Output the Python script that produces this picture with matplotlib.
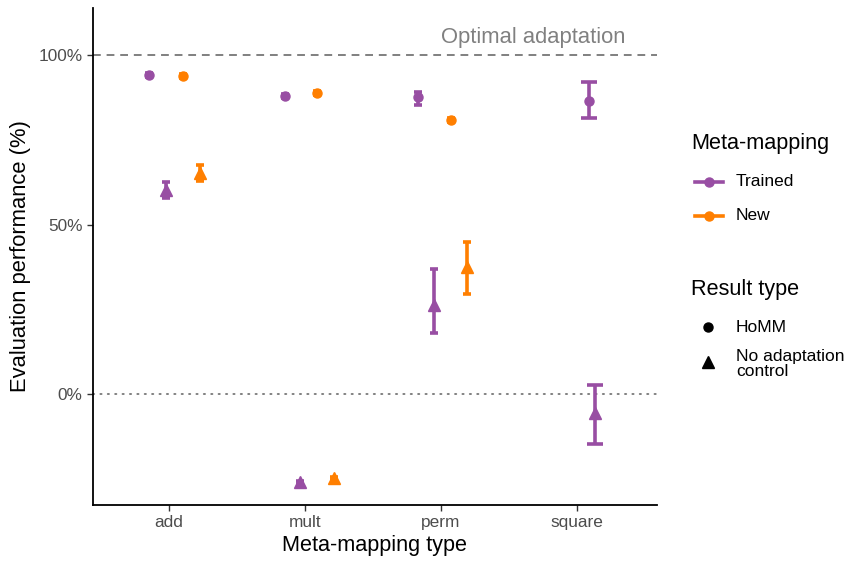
import matplotlib.pyplot as plt
from matplotlib.lines import Line2D

plt.rcParams['font.family'] = ['Liberation Sans', 'DejaVu Sans']

mapping_types = ['add', 'mult', 'perm', 'square']
purple = '#984EA3'
orange = '#FF7F00'

# HoMM results (mean, lower, upper) in percent
homm_trained_x = ['add', 'mult', 'perm', 'square']
homm_trained = [94.1, 87.9, 87.6, 86.4]
homm_trained_lo = [93.5, 87.3, 85.2, 81.4]
homm_trained_hi = [94.7, 88.5, 89.2, 92.0]
homm_trained_jit = [-0.15, -0.15, -0.17, 0.09]

homm_new_x = ['add', 'mult', 'perm']
homm_new = [93.8, 88.8, 80.8]
homm_new_lo = [93.2, 88.2, 80.2]
homm_new_hi = [94.4, 89.4, 81.4]
homm_new_jit = [0.10, 0.09, 0.07]

# no adaptation control
ctrl_trained_x = ['add', 'mult', 'perm', 'square']
ctrl_trained = [60.2, -26.0, 26.3, -5.6]
ctrl_trained_lo = [57.8, -26.4, 18.0, -14.7]
ctrl_trained_hi = [62.5, -25.6, 36.9, 2.7]
ctrl_trained_jit = [-0.02, -0.04, -0.05, 0.13]

ctrl_new_x = ['add', 'mult', 'perm']
ctrl_new = [65.2, -24.8, 37.5]
ctrl_new_lo = [62.8, -25.2, 29.5]
ctrl_new_hi = [67.5, -24.4, 44.8]
ctrl_new_jit = [0.23, 0.21, 0.19]

fig = plt.figure(figsize=(8.45, 5.61), dpi=100)
ax = fig.add_axes([0.110, 0.0998, 0.6675, 0.886])

ax.axhline(100, color='#808080', lw=1.4, ls=(0, (4, 3)), zorder=1)
ax.axhline(0, color='#808080', lw=1.4, ls=(0, (0.6, 3.2)), dash_capstyle='round', zorder=1)
ax.text(3.68, 105.3, 'Optimal adaptation', color='#808080', fontsize=15.8,
        ha='center', va='center')


def draw(cats, vals, lo, hi, jit, color, marker, ms):
    xs = [mapping_types.index(c) + 1 + j for c, j in zip(cats, jit)]
    err = [[v - l for v, l in zip(vals, lo)], [h - v for v, h in zip(vals, hi)]]
    for x, c, v, e0, e1 in zip(xs, cats, vals, err[0], err[1]):
        # square has only one group, so its caps are twice as wide
        cap = 6 if c == 'square' else 3
        ax.errorbar([x], [v], yerr=[[e0], [e1]], fmt='none', ecolor=color,
                    elinewidth=2.6, capsize=cap, capthick=2.6, zorder=2)
    ax.plot(xs, vals, ls='none', marker=marker, ms=ms, color=color, zorder=3)


draw(homm_trained_x, homm_trained, homm_trained_lo, homm_trained_hi, homm_trained_jit, purple, 'o', 6.5)
draw(homm_new_x, homm_new, homm_new_lo, homm_new_hi, homm_new_jit, orange, 'o', 6.5)
draw(ctrl_trained_x, ctrl_trained, ctrl_trained_lo, ctrl_trained_hi, ctrl_trained_jit, purple, '^', 8.5)
draw(ctrl_new_x, ctrl_new, ctrl_new_lo, ctrl_new_hi, ctrl_new_jit, orange, '^', 8.5)

ax.set_xlim(0.441, 4.588)
ax.set_ylim(-32.7, 113.9)
ax.set_xticks(range(1, 5))
ax.set_xticklabels(mapping_types)
ax.set_yticks([0, 50, 100])
ax.set_yticklabels(['0%', '50%', '100%'])
ax.tick_params(colors='#333333', labelsize=12.4, length=4, width=1)
for lab in ax.get_xticklabels() + ax.get_yticklabels():
    lab.set_color('#4D4D4D')
for s in ['top', 'right']:
    ax.spines[s].set_visible(False)
for s in ['left', 'bottom']:
    ax.spines[s].set_linewidth(1.3)
ax.set_xlabel('Meta-mapping type', fontsize=15.6, labelpad=3)
ax.set_ylabel('Evaluation performance (%)', fontsize=15.8, labelpad=5)

# legends drawn in figure pixel coordinates
W, H = 845, 561


def fx(px):
    return px / W


def fy(py):
    return 1 - py / H


fig.text(fx(691), fy(143), 'Meta-mapping', fontsize=15.6, va='center', ha='left')
for lab, col, py in [('Trained', purple, 182), ('New', orange, 216)]:
    fig.add_artist(Line2D([fx(695), fx(723)], [fy(py), fy(py)], color=col, lw=2.6,
                          transform=fig.transFigure))
    fig.add_artist(Line2D([fx(709)], [fy(py)], color=col, marker='o', ms=6.5,
                          transform=fig.transFigure))
    fig.text(fx(736), fy(py), lab, fontsize=12.5, va='center', ha='left')

fig.text(fx(691), fy(289), 'Result type', fontsize=15.6, va='center', ha='left')
fig.add_artist(Line2D([fx(708)], [fy(327)], color='black', marker='o', ms=6.5,
                      transform=fig.transFigure))
fig.text(fx(736), fy(327), 'HoMM', fontsize=12.5, va='center', ha='left')
fig.add_artist(Line2D([fx(708)], [fy(362)], color='black', marker='^', ms=8.5,
                      transform=fig.transFigure))
fig.text(fx(736), fy(364), 'No adaptation\ncontrol', fontsize=12.5, va='center', ha='left',
         linespacing=1.05)

plt.savefig('out.png', dpi=100)
